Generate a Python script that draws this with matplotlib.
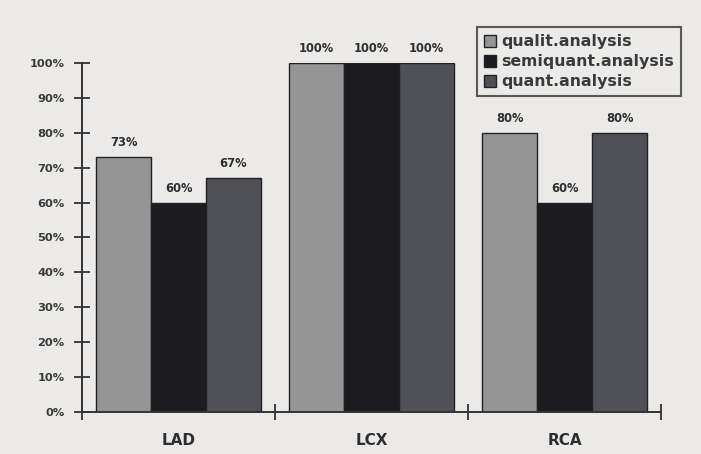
import matplotlib.pyplot as plt
import numpy as np

plt.rcParams['font.family'] = ['DejaVu Sans']

groups = ['LAD', 'LCX', 'RCA']
series = ['qualit.analysis', 'semiquant.analysis', 'quant.analysis']
qualit = [73, 100, 80]
semiquant = [60, 100, 60]
quant = [67, 100, 80]
colors = ['#959595', '#1c1c21', '#505057']
ink = '#2e2e2e'
bg = '#ebeae8'

fig = plt.figure(figsize=(7.01, 4.54), dpi=100, facecolor=bg)
ax = fig.add_axes([0.117, 0.0925, 0.826, 0.769])
ax.set_facecolor(bg)

x = np.arange(len(groups))
w = 0.285
for i, (vals, name) in enumerate(zip([qualit, semiquant, quant], series)):
    pos = x + (i - 1) * w
    ax.bar(pos, vals, width=w, color=colors[i], edgecolor='#222222',
           linewidth=1.0, label=name)
    for px, v in zip(pos, vals):
        ax.text(px, v + 2.2, f'{v}%', ha='center', va='bottom',
                fontsize=8.3, fontweight='bold', color=ink)

ax.set_xlim(-0.5, 2.5)
ax.set_ylim(0, 100)
ax.set_yticks(np.arange(0, 101, 10))
ax.set_yticklabels([f'{t}%' for t in range(0, 101, 10)],
                   fontsize=8.2, fontweight='bold', color='#3a3a3a')
ax.set_xticks([-0.5, 0.5, 1.5, 2.5])
ax.set_xticklabels([])
ax.tick_params(axis='both', direction='inout', length=11, width=1.3,
               color='#333333', pad=7)
for gx, g in zip(x, groups):
    ax.text(gx, -8.2, g, ha='center', va='center', fontsize=11,
            fontweight='bold', color=ink)

for s in ['top', 'right']:
    ax.spines[s].set_visible(False)
for s in ['left', 'bottom']:
    ax.spines[s].set_linewidth(1.4)
    ax.spines[s].set_color('#333333')

leg = ax.legend(loc='upper right', bbox_to_anchor=(0.971, 0.94),
                bbox_transform=fig.transFigure, frameon=True, fancybox=False,
                handlelength=0.75, handleheight=0.75, handletextpad=0.3,
                labelspacing=0.32, borderpad=0.45, borderaxespad=0,
                prop={'weight': 'bold', 'size': 11.3})
leg.get_frame().set_edgecolor('#333333')
leg.get_frame().set_linewidth(1.5)
leg.get_frame().set_facecolor(bg)
for t in leg.get_texts():
    t.set_color('#3a3a3a')

fig.savefig('out.png', dpi=100, facecolor=bg)
